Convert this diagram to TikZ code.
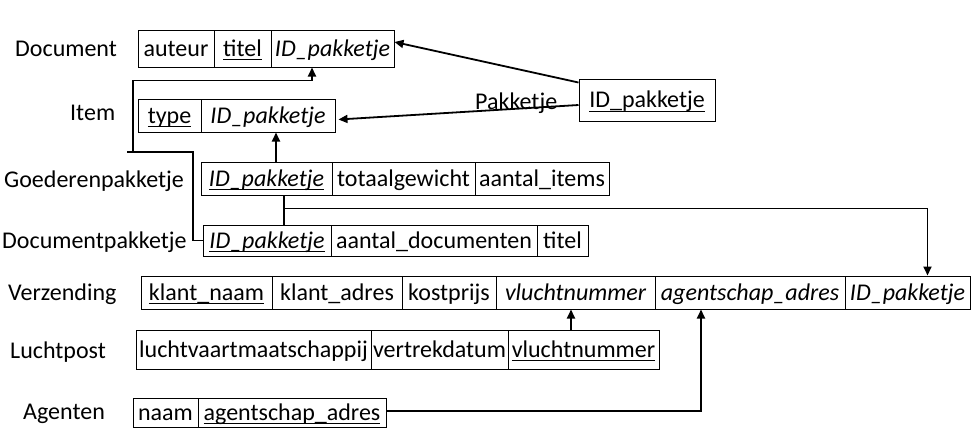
\documentclass[tikz,border=0pt]{standalone}
\usepackage{fontspec}
\setmainfont{Carlito}
\usetikzlibrary{arrows.meta}
\newsavebox\ulbox
\newcommand\ulx[1]{\sbox\ulbox{#1}\rlap{\rule[-4pt]{\wd\ulbox}{1.1pt}}\usebox\ulbox}
\tikzset{
  cell/.style={draw, line width=1pt, inner sep=0pt, text height=15.5pt, text depth=0pt,
    font=\fontsize{24}{29}\selectfont},
  lbl/.style={inner sep=0pt, anchor=west, text height=15.5pt, text depth=0pt,
    font=\fontsize{24}{29}\selectfont},
  conn/.style={line width=1.8pt},
  arr/.style={conn, -{Triangle[length=9pt,width=8pt]}}
}
\begin{document}
\begin{tikzpicture}[x=1pt,y=-1pt]
\useasboundingbox[fill=white] (0,0) rectangle (974,445);
% labels
\node[lbl] (Ldoc) at (15,49) {Document};
\node[lbl] (Litem) at (70,113) {Item};
\node[lbl] (Lgoed) at (4,180) {Goederenpakketje};
\node[lbl] (Ldp) at (2,241) {Documentpakketje};
\node[lbl] (Lverz) at (8,293) {Verzending};
\node[lbl] (Llucht) at (10,351) {Luchtpost};
\node[lbl] (Lag) at (23,411.5) {Agenten};
\node[lbl] (Lpak) at (475,101.5) {Pakketje};
% Document
\node[cell, minimum width=76pt, minimum height=37pt] (doca) at (176,48.5) {auteur};
\node[cell, minimum width=57pt, minimum height=37pt] (doct) at (242.5,48.5) {\ulx{titel}};
\node[cell, minimum width=123pt, minimum height=37pt] (docid) at (332.5,48.5) {\itshape ID\_pakketje};
% Item
\node[cell, minimum width=63pt, minimum height=33pt] (itemt) at (169.5,115.5) {\ulx{type}};
\node[cell, minimum width=134pt, minimum height=33pt] (itemid) at (268,115.5) {\itshape ID\_pakketje};
% Pakketje
\node[cell, minimum width=136pt, minimum height=42pt] (pak) at (647,100) {\ulx{ID\_pakketje}};
% Goederenpakketje
\node[cell, minimum width=131pt, minimum height=33pt] (gid) at (266.5,178.5) {\ulx{\itshape ID\_pakketje}};
\node[cell, minimum width=143pt, minimum height=33pt] (gtot) at (403.5,178.5) {totaalgewicht};
\node[cell, minimum width=134pt, minimum height=33pt] (gaan) at (542,178.5) {aantal\_items};
% Documentpakketje
\node[cell, minimum width=128pt, minimum height=31pt] (did) at (267,240.5) {\ulx{\itshape ID\_pakketje}};
\node[cell, minimum width=206pt, minimum height=31pt] (daan) at (434,240.5) {aantal\_documenten};
\node[cell, minimum width=51pt, minimum height=31pt] (dtit) at (562.5,240.5) {titel};
% Verzending
\node[cell, minimum width=131pt, minimum height=33pt] (vkn) at (206.5,292.5) {\ulx{klant\_naam}};
\node[cell, minimum width=130pt, minimum height=33pt] (vka) at (337,292.5) {klant\_adres};
\node[cell, minimum width=94pt, minimum height=33pt] (vkp) at (449,292.5) {kostprijs};
\node[cell, minimum width=159pt, minimum height=33pt] (vvl) at (575.5,292.5) {\itshape vluchtnummer};
\node[cell, minimum width=190pt, minimum height=33pt] (vag) at (750,292.5) {\itshape agentschap\_adres};
\node[cell, minimum width=125pt, minimum height=33pt] (vid) at (907.5,292.5) {\itshape ID\_pakketje};
% Luchtpost
\node[cell, minimum width=235pt, minimum height=39pt] (llu) at (253.5,349.5) {luchtvaartmaatschappij};
\node[cell, minimum width=137pt, minimum height=39pt] (lve) at (439.5,349.5) {vertrekdatum};
\node[cell, minimum width=151pt, minimum height=39pt] (lvl) at (583.5,349.5) {\ulx{vluchtnummer}};
% Agenten
\node[cell, minimum width=65pt, minimum height=29pt] (an) at (165.5,412.5) {naam};
\node[cell, minimum width=188pt, minimum height=29pt] (aag) at (292,412.5) {\ulx{agentschap\_adres}};
% connectors
\draw[arr] ([yshift=-4pt]pak.north west) -- ([yshift=6.5pt]docid.east);
\draw[arr] ([yshift=-5pt]pak.west) -- ([xshift=3pt,yshift=-4pt]itemid.east);
\coordinate (j1) at (193,152);
\coordinate (j2) at (133,152);
\draw[conn] (did.west) -| (j1) -- ([xshift=-6pt]j2);
\draw[arr] (j2) |- ([xshift=-20.5pt,yshift=-13pt]docid.south) -- ([xshift=-20.5pt]docid.south);
\draw[arr] ([xshift=9.5pt]gid.north) -- ([xshift=8pt]itemid.south);
\draw[conn] ([xshift=17.5pt]gid.south) -- ([xshift=17pt]did.north);
\draw[arr] ([xshift=17.5pt,yshift=-13pt]gid.south) -| ([xshift=20pt]vid.north);
\draw[arr] ([xshift=-12.5pt]lvl.north) -- ([xshift=-4.5pt]vvl.south);
\draw[arr] ([yshift=1.5pt]aag.east) -| ([xshift=-49pt]vag.south);
\end{tikzpicture}
\end{document}
